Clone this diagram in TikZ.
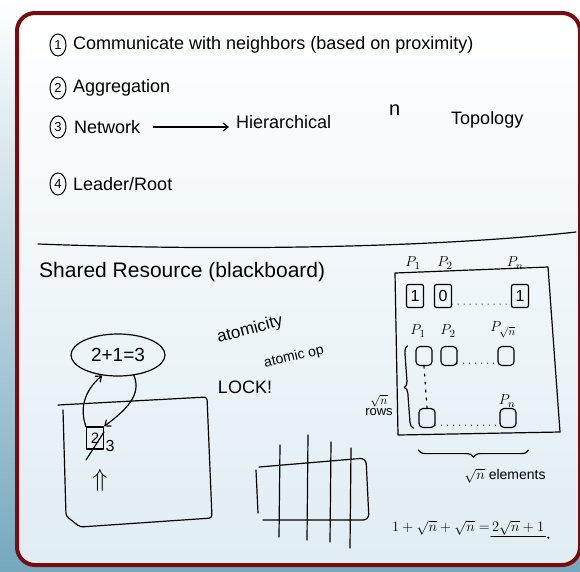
\documentclass[tikz,border=0pt]{standalone}
\usepackage{fontspec}
\setmainfont{Liberation Sans}
\usetikzlibrary{shapes.geometric,decorations.pathreplacing,arrows.meta}
\definecolor{framered}{RGB}{122,12,16}
\definecolor{deskblue}{RGB}{118,168,190}
\definecolor{paleblue}{RGB}{224,237,243}
\begin{document}
\begin{tikzpicture}[x=1pt,y=-1pt,>={Straight Barb[length=5pt,width=8pt]},
	ink/.style={line width=1.2pt,line cap=round,line join=round},
	num/.style={draw,ellipse,line width=1pt,inner sep=0pt,minimum width=16pt,minimum height=22pt,font=\fontsize{13}{13}\selectfont},
	hand/.style={anchor=west,inner sep=1pt,font=\fontsize{18}{20}\selectfont},
	cell/.style={draw,ink,rounded corners=2pt,minimum width=17pt,minimum height=23pt,inner sep=0pt,font=\fontsize{16}{16}\selectfont},
	slot/.style={draw,ink,rounded corners=4pt,minimum width=16pt,minimum height=19pt,inner sep=0pt},
	lbl/.style={inner sep=0pt,font=\fontsize{15}{15}\selectfont}]
\useasboundingbox (0,0) rectangle (580,571);
\fill[top color=white,middle color=white,bottom color=deskblue] (0,0) rectangle (580,571);
\draw[framered,line width=4pt,rounded corners=18pt,top color=white,middle color=white,bottom color=paleblue] (17,13) rectangle (580,565);

% list
\node[num] (n1) at (58,45) {1};
\node[hand] (t1) at (72,45) {Communicate with neighbors (based on proximity)};
\node[num] (n2) at (58,88) {2};
\node[hand] (t2) at (72,88) {Aggregation};
\node[num] (n3) at (58,127) {3};
\node[hand] (net) at (73,127) {Network};
\node[hand] (hier) at (235,122) {Hierarchical};
\node[hand,font=\fontsize{20}{20}\selectfont] (nn) at (388,110) {n};
\node[hand] (topo) at (450,120) {Topology};
\draw[ink,->,shorten <=12pt,shorten >=6pt] (net.east) -- (hier.west |- net.east);
\node[num] (n4) at (58,184) {4};
\node[hand] (t4) at (72,184) {Leader/Root};

\draw[ink] (38,244) .. controls (250,252) and (450,246) .. (576,232);

% shared resource
\node[hand,font=\fontsize{21}{23}\selectfont] (shared) at (38,272) {Shared Resource (blackboard)};
\node[draw,ellipse,ink,minimum width=94pt,minimum height=42pt,inner sep=0pt,font=\fontsize{19}{19}\selectfont] (sum) at (118,355) {2+1=3};
\draw[ink,rounded corners=3pt] (58,405) -- (207,397) -- (212,518) -- (80,527) -- (66,516) -- (63,410);
\node[draw,ink,minimum width=17pt,minimum height=22pt,inner sep=0pt,font=\fontsize{15}{15}\selectfont] (cell) at (95,438) {2};
\node[inner sep=0pt,font=\fontsize{16}{16}\selectfont] (new) at (110,446) {3};
\draw[ink] (86,460) -- (104,432);
\node[inner sep=0pt,font=\fontsize{30}{30}\selectfont] (ptr) at (100,480) {$\Uparrow$};
\draw[ink,->] (cell.north west) .. controls (80,410) and (83,392) .. (sum.232);
\draw[ink,->] (sum.308) .. controls (142,395) and (126,410) .. (cell.north east);

\node[rotate=15,inner sep=0pt,font=\fontsize{17}{17}\selectfont] (atom) at (250,330) {atomicity};
\node[rotate=13,inner sep=0pt,font=\fontsize{14}{14}\selectfont] (atop) at (294,357) {atomic op};
\node[inner sep=0pt,font=\fontsize{18}{18}\selectfont] (lock) at (245,387) {LOCK!};

% grid
\draw[ink,rounded corners=6pt] (259,467) -- (366,458) -- (369,520) -- (263,520);
\draw[ink] (256,470) -- (258,513);
\foreach \x/\a/\b in {280/445/537,308/435/540,331/442/542,351/448/548}
	\draw[ink] (\x,\a) -- (\x-1,\b);

% processors
\draw[ink] (395,273) -- (548,267) -- (560,432) -- (398,435) -- cycle;
\node[lbl] (p1) at (413,263) {$P_1$};
\node[lbl] (p2) at (445,263) {$P_2$};
\node[lbl] (pn) at (515,263) {$P_n$};
\node[cell] (a1) at (415,296) {1};
\node[cell] (a2) at (443,296) {0};
\node[cell] (an) at (520,296) {1};
\draw[ink,dash pattern=on 0pt off 6pt] ([yshift=4pt]a2.south east) -- ([yshift=4pt]an.south west);

\node[lbl] (q1) at (418,331) {$P_1$};
\node[lbl] (q2) at (448,331) {$P_2$};
\node[lbl] (qr) at (503,330) {$P_{\sqrt{n}}$};
\node[slot] (s11) at (424,356) {};
\node[slot] (s12) at (449,356) {};
\node[slot] (s1r) at (506,356) {};
\node[lbl] (qn) at (507,401) {$P_n$};
\node[slot] (sn1) at (427,418) {};
\node[slot] (snn) at (508,418) {};
\draw[ink,dash pattern=on 0pt off 6pt] ([yshift=3pt]s12.south east) -- ([yshift=3pt]s1r.south west);
\draw[ink,dash pattern=on 0pt off 6pt] ([yshift=3pt]sn1.south east) -- ([yshift=3pt]snn.south west);
\draw[ink,dash pattern=on 2pt off 6pt] (s11.south) -- (sn1.north);

\draw[ink,decorate,decoration={brace,amplitude=6pt}] ([xshift=-5pt]sn1.south west) -- ([xshift=-8pt]s11.north west);
\node[lbl,align=center,font=\fontsize{13}{11}\selectfont] (rows) at (379,405) {$\sqrt{n}$\\rows};
\draw[ink,decorate,decoration={brace,amplitude=7pt}] ([xshift=12pt,yshift=-22pt]snn.south east) -- ([yshift=-22pt]sn1.south west);
\node[lbl,font=\fontsize{14}{14}\selectfont] (elems) at (505,476) {$\sqrt{n}$ elements};

\node[anchor=west,inner sep=1pt,font=\fontsize{15}{15}\selectfont] (total) at (391,528) {$1+\sqrt{n}+\sqrt{n}=$};
\node[anchor=west,inner sep=1pt,font=\fontsize{15}{15}\selectfont] (res) at (total.east) {$2\sqrt{n}+1$};
\draw[ink] (res.south west) -- (res.south east);
\fill ([shift={(3pt,-1pt)}]res.south east) circle (1.2pt);
\end{tikzpicture}
\end{document}
